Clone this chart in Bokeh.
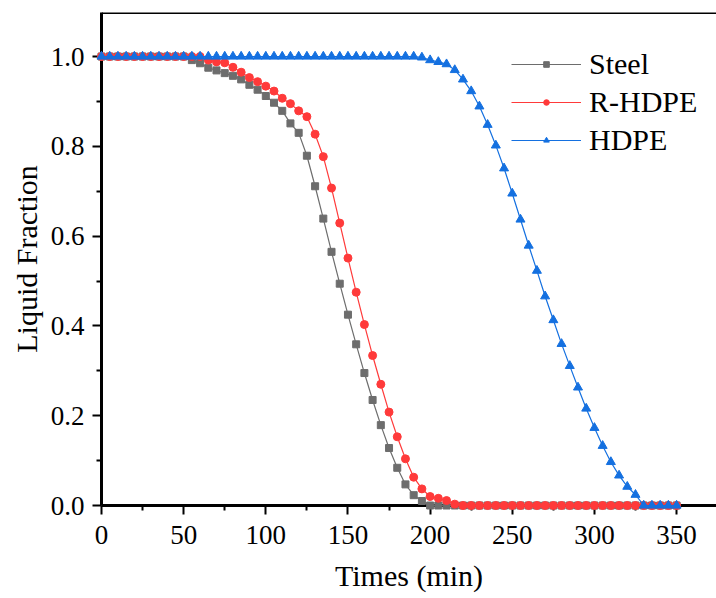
from bokeh.plotting import figure
from bokeh.models import FixedTicker, PrintfTickFormatter, Legend, LegendItem, Span
from bokeh.embed import file_html
from bokeh.resources import INLINE

times = list(range(0, 355, 5))

steel = [1.0] * 11 + [
    0.992, 0.985, 0.975, 0.969, 0.963, 0.957, 0.949, 0.937, 0.926, 0.912,
    0.897, 0.879, 0.851, 0.830, 0.779, 0.711, 0.639, 0.565, 0.494, 0.425,
    0.359, 0.295, 0.235, 0.179, 0.128, 0.084, 0.047, 0.023, 0.010, 0.0,
] + [0.0] * 30

r_hdpe = [1.0] * 13 + [
    0.992, 0.988, 0.986, 0.976, 0.965, 0.953, 0.944, 0.934, 0.923, 0.907,
    0.895, 0.879, 0.866, 0.827, 0.777, 0.707, 0.629, 0.551, 0.475, 0.403,
    0.334, 0.270, 0.208, 0.153, 0.104, 0.063, 0.037, 0.020, 0.016, 0.011,
    0.003,
] + [0.0] * 27

hdpe = [1.0] * 39 + [
    0.998, 0.992, 0.988, 0.983, 0.970, 0.949, 0.923, 0.889, 0.848, 0.802,
    0.751, 0.695, 0.637, 0.579, 0.523, 0.466, 0.413, 0.360, 0.311, 0.263,
    0.216, 0.173, 0.133, 0.097, 0.067, 0.042, 0.024, 0.0,
] + [0.0] * 4

x_ticks = [0, 50, 100, 150, 200, 250, 300, 350]
x_minor = [25, 75, 125, 175, 225, 275, 325, 375]
y_ticks = [0.0, 0.2, 0.4, 0.6, 0.8, 1.0]
y_minor = [0.1, 0.3, 0.5, 0.7, 0.9]

FONT = "Liberation Serif"

p = figure(width=716, height=598, x_range=(0, 374.3), y_range=(0, 1.098),
           output_backend="svg", toolbar_location=None,
           min_border_left=101, min_border_right=0, min_border_top=12, min_border_bottom=93)
p.grid.visible = False
p.outline_line_color = None
p.background_fill_color = "white"
p.border_fill_color = "white"

for ax in (p.xaxis[0], p.yaxis[0]):
    ax.axis_line_width = 3
    ax.axis_line_color = "black"
    ax.major_tick_line_width = 2
    ax.minor_tick_line_width = 2
    ax.major_tick_in = 0
    ax.major_tick_out = 9
    ax.minor_tick_in = 0
    ax.minor_tick_out = 5
    ax.major_label_text_font = FONT
    ax.major_label_text_font_size = "27px"
    ax.major_label_text_color = "black"
    ax.axis_label_text_font = FONT
    ax.axis_label_text_font_size = "30px"
    ax.axis_label_text_font_style = "normal"
    ax.axis_label_text_color = "black"

p.xaxis[0].ticker = FixedTicker(ticks=x_ticks, minor_ticks=x_minor)
p.yaxis[0].ticker = FixedTicker(ticks=y_ticks, minor_ticks=y_minor)
p.yaxis[0].formatter = PrintfTickFormatter(format="%.1f")
p.xaxis[0].axis_label = "Times (min)"
p.yaxis[0].axis_label = "Liquid Fraction"
p.xaxis[0].major_label_standoff = 11
p.yaxis[0].major_label_standoff = 8
p.xaxis[0].axis_label_standoff = 12
p.yaxis[0].axis_label_standoff = 5

p.add_layout(Span(location=1.098, dimension="width", line_color="black", line_width=3))

series = [
    ("Steel", steel, "#6d6d6d", "square", 7),
    ("R-HDPE", r_hdpe, "#ff3a3a", "circle", 8),
    ("HDPE", hdpe, "#1470e0", "triangle", 9),
]
items = []
for name, ys, col, mk, sz in series:
    ln = p.line(times, ys, line_color=col, line_width=1.2, level="overlay")
    sc = p.scatter(times, ys, marker=mk, size=sz, fill_color=col, line_color=col,
                   level="overlay")
    items.append(LegendItem(label=name, renderers=[ln, sc]))

leg = Legend(items=items, location=(410, 348), padding=0, margin=0,
             border_line_color=None, background_fill_alpha=0,
             glyph_width=70, glyph_height=14, label_height=14, spacing=4,
             label_standoff=8, label_text_font=FONT, label_text_font_size="30px",
             label_text_color="black")
p.add_layout(leg, "center")

open("out.html", "w").write(file_html(p, INLINE))
